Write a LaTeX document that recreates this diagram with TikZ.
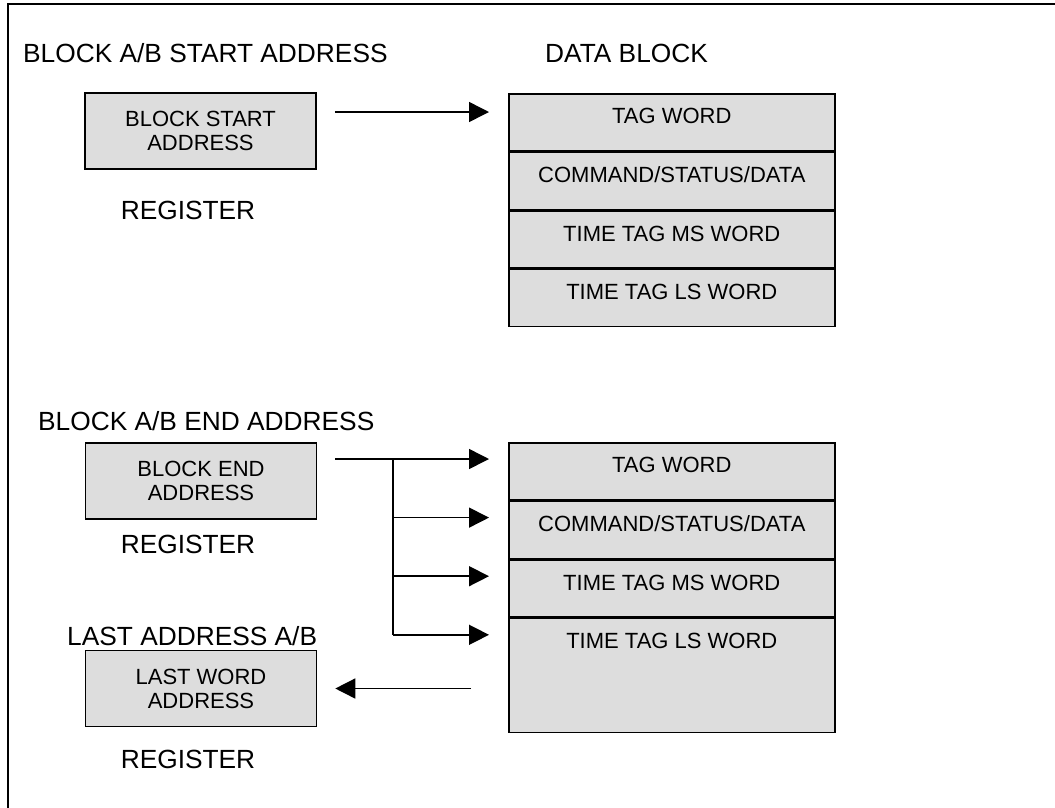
\documentclass[tikz,border=0pt]{standalone}
\usepackage{fontspec}
\setmainfont{Liberation Sans}
\usetikzlibrary{positioning,arrows.meta}
\definecolor{regfill}{HTML}{DDDDDD}

\begin{document}
\begin{tikzpicture}[x=1pt, y=-1pt, node distance=0pt,
  register/.style={rectangle, draw, fill=regfill, line width=1.6pt, minimum width=231pt, minimum height=76pt, inner sep=0pt, align=center, font=\fontsize{22}{24}\selectfont},
  word/.style={rectangle, draw, fill=regfill, line width=1.6pt, minimum width=326pt, minimum height=57pt, inner sep=0pt, text height=16pt, text depth=13pt, font=\fontsize{22}{24}\selectfont},
  caption/.style={inner sep=0pt, text height=18.8pt, text depth=0pt, font=\fontsize{26.3}{30}\selectfont},
  feed/.style={line width=1.5pt, -{Triangle[length=20pt, width=20pt]}},
  wire/.style={line width=1.5pt}]
  \clip (0,0) rectangle (1055,807);
  \draw[line width=1.6pt] (8,4) rectangle (1070,820);

  % start address
  \node[caption, anchor=west] (stitle) at (23,53) {BLOCK A/B START ADDRESS};
  \node[caption, anchor=west] (dtitle) at (545,53) {DATA BLOCK};
  \node[register] (sreg) at (200.5,131) {BLOCK START\\ADDRESS};
  \node[caption, below=31pt of sreg, xshift=-12.5pt] (sname) {REGISTER};

  \node[word, anchor=north west] (s1) at (508,93) {TAG WORD};
  \node[word, below=of s1] (s2) {COMMAND/STATUS/DATA};
  \node[word, below=of s2] (s3) {TIME TAG MS WORD};
  \node[word, below=of s3] (s4) {TIME TAG LS WORD};

  \coordinate (sarr) at ([yshift=19pt]sreg.east);
  \draw[feed, shorten <=18pt, shorten >=19pt] (sarr) -- (sarr -| s1.west);

  % end address
  \node[caption, anchor=west] (etitle) at (38,421) {BLOCK A/B END ADDRESS};
  \node[register] (ereg) at (201,481) {BLOCK END\\ADDRESS};
  \node[caption, below=14.5pt of ereg, xshift=-13pt] (ename) {REGISTER};

  \node[word, anchor=north west] (e1) at (508,442) {TAG WORD};
  \node[word, below=of e1] (e2) {COMMAND/STATUS/DATA};
  \node[word, below=of e2] (e3) {TIME TAG MS WORD};
  \node[word, below=of e3, minimum height=114pt, text depth=70pt] (e4) {TIME TAG LS WORD};

  \coordinate (trunk) at (393,0);
  \foreach \i in {1,...,4}
    \coordinate (p\i) at ([yshift=-17pt]e\i.north west);
  \draw[feed, shorten <=18pt, shorten >=19pt] (p1 -| ereg.east) -- (p1);
  \draw[wire] (p1 -| trunk) -- (p4 -| trunk);
  \foreach \i in {2,3,4}
    \draw[feed, shorten >=19pt] (p\i -| trunk) -- (p\i);

  % last address
  \node[caption, anchor=west] (ltitle) at (67,636) {LAST ADDRESS A/B};
  \node[register] (lreg) at (201,688.5) {LAST WORD\\ADDRESS};
  \node[caption, below=22.5pt of lreg, xshift=-13pt] (lname) {REGISTER};

  \draw[feed, shorten <=37pt, shorten >=18pt] (lreg.east -| e4.west) -- (lreg.east);
\end{tikzpicture}
\end{document}
